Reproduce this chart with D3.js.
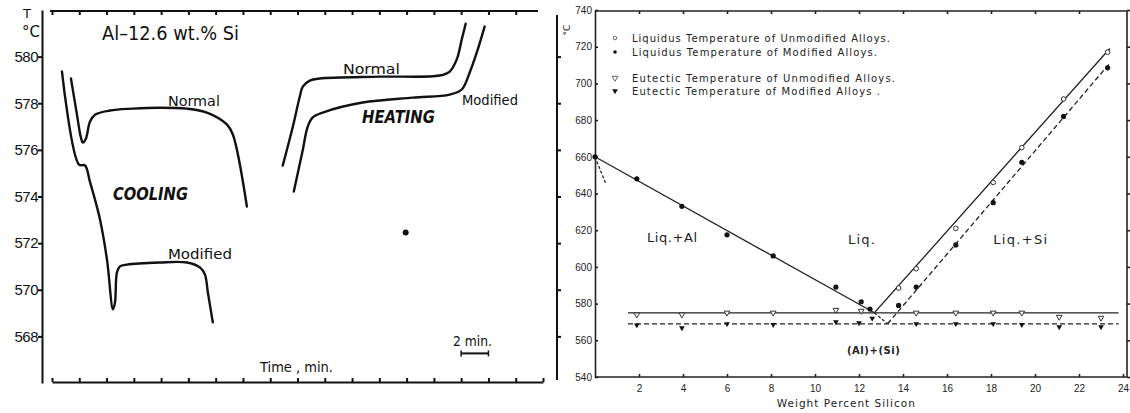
<!DOCTYPE html>
<html>
<head>
<meta charset="utf-8">
<script src="https://cdn.jsdelivr.net/npm/d3@7"></script>
<style>
body { margin: 0; background: #fff; }
svg { display: block; font-family: 'DejaVu Sans', sans-serif; }
</style>
</head>
<body>
<div id="root"></div>
<script>
// left panel: [time (min), temperature (C)]
var coolNormal = [[1.39,579.06],[1.83,577.51],[2.12,576.53],[2.27,576.31],[2.49,576.49],[2.78,577.21],[3.15,577.51],[4.25,577.69],[5.93,577.77],[7.91,577.81],[9.89,577.77],[11.36,577.6],[12.82,577.09],[13.26,576.66],[14.29,573.57]];
var coolModified = [[0.73,579.36],[1.98,575.37],[2.42,575.33],[2.78,574.64],[3.15,573.87],[3.52,573.01],[4.03,571.3],[4.47,569.16],[4.62,569.46],[4.76,570.74],[4.98,571.0],[5.49,571.08],[7.91,571.17],[9.89,571.17],[10.84,570.96],[11.21,570.66],[11.43,569.88],[11.79,568.6]];
var heatNormal = [[16.92,575.33],[17.66,577.0],[18.17,578.29],[18.39,578.71],[18.9,578.97],[19.63,579.06],[24.03,579.14],[28.42,579.19],[29.16,579.36],[29.67,579.87],[30.04,580.73],[30.33,581.41]];
var heatModified = [[17.73,574.21],[18.39,576.01],[18.75,577.0],[19.12,577.39],[19.85,577.6],[22.78,578.03],[26.45,578.24],[29.16,578.37],[30.04,578.59],[30.62,579.31],[31.14,580.17],[31.72,581.29]];
var specks = [[25.93,572.46]];
var leftTicks = [568, 570, 572, 574, 576, 578, 580];
var timeTicks = d3.range(0, 37, 2);

// right panel: [wt% Si, temperature (C)]
var liqLine = [[0,660],[12.7,575],[23.4,719]];
var liqModLine = [[13.3,569],[23.4,711]];
var liqModLeft = [[0,660],[0.5,645]];
var liqModJoin = [[12.7,575],[13.3,569]];
var eutUnmodLine = [[1.5,575],[23.8,575]];
var eutModLine = [[1.5,569],[23.8,569]];
var liqUnmodPts = [[13.8,588.5],[14.6,599],[16.4,621],[18.1,646],[19.4,665],[21.3,691.5],[23.3,717]];
var liqModPts = [[0,660],[1.9,648],[3.95,633],[6,617.5],[8.1,606],[10.95,589],[12.1,581],[12.5,577],[13.8,579],[14.6,589],[16.4,612],[18.1,635],[19.4,657],[21.3,682],[23.3,708.5]];
var eutUnmodPts = [[1.9,574],[3.95,574],[6,575],[8.1,575],[10.95,576.5],[12.1,576],[14.6,575],[16.4,575],[18.1,575],[19.4,575],[21.1,572.7],[23,572.2]];
var eutModPts = [[1.9,568.3],[3.95,566.7],[6,569],[8.1,568.5],[10.95,570],[12,569.5],[12.6,572],[14.6,569],[16.4,569],[18.1,569],[19.4,568.5],[21.1,567.3],[23,567.3]];
var rightYTicks = d3.range(540, 741, 20);
var rightXTicks = d3.range(2, 25, 2);
var legendLabels = [
  'Liquidus Temperature of Unmodified Alloys.',
  'Liquidus Temperature of Modified Alloys.',
  'Eutectic Temperature of Unmodified Alloys.',
  'Eutectic Temperature of Modified Alloys .'
];

var w = 1130, h = 413;
var svg = d3.select('#root').append('svg')
  .attr('width', w)
  .attr('height', h);

// ---------- left panel ----------
var x1 = d3.scaleLinear().domain([0, 36]).range([52, 543]);
var y1 = d3.scaleLinear().domain([566, 582]).range([383, 10]);
var left = svg.append('g').attr('id', 'left');

var thick = function(sel) {
  sel.selectAll('path,line').attr('stroke', '#111').attr('stroke-width', 2);
  sel.selectAll('text').attr('fill', '#111');
};

left.append('g')
  .attr('transform', 'translate(42,0)')
  .call(d3.axisLeft(y1).tickValues(leftTicks).tickSize(4).tickSizeOuter(0).tickPadding(0))
  .call(thick)
  .call(function(g) { g.selectAll('text').attr('font-size', 15).attr('letter-spacing', -0.5); });

left.append('g')
  .attr('transform', 'translate(0,382)')
  .call(d3.axisTop(x1).tickValues(timeTicks).tickSize(4).tickSizeOuter(0).tickFormat(''))
  .call(thick);

left.append('g')
  .attr('transform', 'translate(0,11)')
  .call(d3.axisBottom(x1).tickValues(timeTicks.slice(0, -1)).tickSize(4).tickSizeOuter(0).tickFormat(''))
  .call(thick)
  .call(function(g) { g.select('.domain').attr('d', 'M50,0H538'); });

left.append('g')
  .attr('transform', 'translate(557,0)')
  .call(d3.axisLeft(y1).tickValues(leftTicks).tickSize(-4).tickSizeOuter(0).tickFormat(''))
  .call(thick)
  .call(function(g) { g.select('.domain').attr('d', 'M0,15V380'); });

var curve = d3.line()
  .x(function(d) { return x1(d[0]); })
  .y(function(d) { return y1(d[1]); })
  .curve(d3.curveCatmullRom.alpha(0.5));

left.selectAll('path.curve')
  .data([coolNormal, coolModified, heatNormal, heatModified])
  .enter()
  .append('path')
  .attr('class', 'curve')
  .attr('d', curve)
  .attr('fill', 'none')
  .attr('stroke', '#111')
  .attr('stroke-width', 2.4)
  .attr('stroke-linecap', 'round')
  .attr('stroke-linejoin', 'round');

left.selectAll('circle')
  .data(specks)
  .enter()
  .append('circle')
  .attr('cx', function(d) { return x1(d[0]); })
  .attr('cy', function(d) { return y1(d[1]); })
  .attr('r', 3)
  .attr('fill', '#111');

var leftText = [
  {t: 'T', px: [27, 18], size: 13, anchor: 'middle'},
  {t: '°C', px: [31, 37], size: 15, anchor: 'middle'},
  {t: 'Al\u201312.6 wt.% Si', at: [3.67, 580.73], size: 19, len: 137},
  {t: 'Normal', at: [8.5, 577.9], size: 14, len: 52},
  {t: 'COOLING', at: [4.47, 573.83], size: 17, len: 75, bold: true},
  {t: 'Modified', at: [8.5, 571.3], size: 14, len: 64},
  {t: 'Normal', at: [21.33, 579.27], size: 14, len: 57},
  {t: 'Modified', at: [30.06, 577.94], size: 14, len: 56},
  {t: 'HEATING', at: [22.73, 577.17], size: 17, len: 73, bold: true},
  {t: 'Time , min.', at: [15.25, 566.46], size: 14, len: 73},
  {t: '2 min.', at: [29.4, 567.57], size: 14, len: 39}
];
left.selectAll('text.lab')
  .data(leftText)
  .enter()
  .append('text')
  .attr('class', 'lab')
  .attr('x', function(d) { return d.at ? x1(d.at[0]) : d.px[0]; })
  .attr('y', function(d) { return d.at ? y1(d.at[1]) : d.px[1]; })
  .attr('font-size', function(d) { return d.size; })
  .attr('text-anchor', function(d) { return d.anchor || 'start'; })
  .attr('font-weight', function(d) { return d.bold ? 'bold' : null; })
  .attr('font-style', function(d) { return d.bold ? 'italic' : null; })
  .attr('textLength', function(d) { return d.len || null; })
  .attr('lengthAdjust', 'spacingAndGlyphs')
  .attr('fill', '#111')
  .text(function(d) { return d.t; });

// 2 min scale bar
var barY = y1(567.27);
left.append('line')
  .attr('x1', x1(30)).attr('x2', x1(32))
  .attr('y1', barY).attr('y2', barY)
  .attr('stroke', '#111').attr('stroke-width', 2);
[30, 32].forEach(function(t) {
  left.append('line')
    .attr('x1', x1(t)).attr('x2', x1(t))
    .attr('y1', barY - 3).attr('y2', barY + 3)
    .attr('stroke', '#111').attr('stroke-width', 1.5);
});

// ---------- right panel ----------
var x2 = d3.scaleLinear().domain([0, 24]).range([595, 1123]);
var y2 = d3.scaleLinear().domain([540, 740]).range([377, 10]);
var right = svg.append('g').attr('id', 'right');

var thin = function(sel) {
  sel.selectAll('path,line').attr('stroke', '#222').attr('stroke-width', 1.6);
  sel.selectAll('text').attr('fill', '#222').attr('font-size', 10);
};

right.append('g')
  .attr('transform', 'translate(595,0)')
  .call(d3.axisLeft(y2).tickValues(rightYTicks).tickSize(-3).tickSizeOuter(0).tickPadding(3))
  .call(thin);

right.append('g')
  .attr('transform', 'translate(0,377)')
  .call(d3.axisBottom(x2).tickValues(rightXTicks).tickSize(-3).tickSizeOuter(0).tickPadding(8))
  .call(thin)
  .call(function(g) { g.select('.domain').attr('d', 'M595,0H1127'); });

right.append('g')
  .attr('transform', 'translate(0,11)')
  .call(d3.axisBottom(x2).tickValues(rightXTicks.slice(0, -1)).tickSize(3).tickSizeOuter(0).tickFormat(''))
  .call(thin)
  .call(function(g) { g.select('.domain').attr('d', 'M595,0H1127'); });

right.append('g')
  .attr('transform', 'translate(1127,0)')
  .call(d3.axisLeft(y2).tickValues(rightYTicks).tickSize(-3).tickSizeOuter(0).tickFormat(''))
  .call(thin)
  .call(function(g) { g.select('.domain').attr('d', 'M0,11V377'); });

var line2 = d3.line()
  .x(function(d) { return x2(d[0]); })
  .y(function(d) { return y2(d[1]); });

var lines = [
  {d: liqLine, dash: null},
  {d: eutUnmodLine, dash: null},
  {d: liqModLine, dash: '5,3'},
  {d: eutModLine, dash: '5,3'},
  {d: liqModLeft, dash: '3,2'},
  {d: liqModJoin, dash: '3,2'}
];
right.selectAll('path.ln')
  .data(lines)
  .enter()
  .append('path')
  .attr('class', 'ln')
  .attr('d', function(d) { return line2(d.d); })
  .attr('fill', 'none')
  .attr('stroke', '#222')
  .attr('stroke-width', 1.3)
  .attr('stroke-dasharray', function(d) { return d.dash; });

var tri = d3.symbol().type(d3.symbolTriangle).size(14);

right.selectAll('circle.lu')
  .data(liqUnmodPts)
  .enter()
  .append('circle')
  .attr('class', 'lu')
  .attr('cx', function(d) { return x2(d[0]); })
  .attr('cy', function(d) { return y2(d[1]); })
  .attr('r', 2.3)
  .attr('fill', '#fff')
  .attr('stroke', '#333')
  .attr('stroke-width', 1);

right.selectAll('circle.lm')
  .data(liqModPts)
  .enter()
  .append('circle')
  .attr('class', 'lm')
  .attr('cx', function(d) { return x2(d[0]); })
  .attr('cy', function(d) { return y2(d[1]); })
  .attr('r', 2.6)
  .attr('fill', '#111');

right.selectAll('path.eu')
  .data(eutUnmodPts)
  .enter()
  .append('path')
  .attr('class', 'eu')
  .attr('d', tri)
  .attr('transform', function(d) { return 'translate(' + x2(d[0]) + ',' + y2(d[1]) + ') rotate(180)'; })
  .attr('fill', '#fff')
  .attr('stroke', '#333')
  .attr('stroke-width', 1);

right.selectAll('path.em')
  .data(eutModPts)
  .enter()
  .append('path')
  .attr('class', 'em')
  .attr('d', tri)
  .attr('transform', function(d) { return 'translate(' + x2(d[0]) + ',' + y2(d[1]) + ') rotate(180)'; })
  .attr('fill', '#111');

// legend
var legRows = [38, 52, 78, 91];
var legLens = [258, 245, 263, 248];
var leg = right.append('g').attr('id', 'legend');
leg.selectAll('text')
  .data(legendLabels)
  .enter()
  .append('text')
  .attr('x', 632)
  .attr('y', function(d, i) { return legRows[i] + 3.5; })
  .attr('font-size', 10)
  .attr('textLength', function(d, i) { return legLens[i]; })
  .attr('lengthAdjust', 'spacing')
  .attr('fill', '#222')
  .text(function(d) { return d; });
leg.selectAll('.sym')
  .data(legendLabels)
  .enter()
  .append('path')
  .attr('class', 'sym')
  .attr('d', function(d, i) { return i < 2 ? d3.symbol().type(d3.symbolCircle).size(10)() : tri(); })
  .attr('transform', function(d, i) { return 'translate(615,' + legRows[i] + ')' + (i < 2 ? '' : ' rotate(180)'); })
  .attr('fill', function(d, i) { return i % 2 ? '#111' : '#fff'; })
  .attr('stroke', function(d, i) { return i % 2 ? 'none' : '#444'; })
  .attr('stroke-width', 0.8);

var rightText = [
  {t: 'Liq.+Al', at: [3.5, 613.5], size: 13, len: 50, anchor: 'middle'},
  {t: 'Liq.', at: [11.5, 612.5], size: 13, len: 27},
  {t: 'Liq.+Si', at: [18.1, 612.5], size: 13, len: 54},
  {t: '(Al)+(Si)', at: [11.45, 552.5], size: 10, len: 53, bold: true},
  {t: 'Weight  Percent  Silicon', at: [11.4, 523.6], size: 10.5, len: 138, anchor: 'middle'}
];
right.selectAll('text.lab')
  .data(rightText)
  .enter()
  .append('text')
  .attr('class', 'lab')
  .attr('x', function(d) { return x2(d.at[0]); })
  .attr('y', function(d) { return y2(d.at[1]); })
  .attr('font-size', function(d) { return d.size; })
  .attr('text-anchor', function(d) { return d.anchor || 'start'; })
  .attr('font-weight', function(d) { return d.bold ? 'bold' : null; })
  .attr('textLength', function(d) { return d.len; })
  .attr('lengthAdjust', 'spacing')
  .attr('fill', '#222')
  .text(function(d) { return d.t; });

right.append('text')
  .attr('transform', 'translate(570,30) rotate(-90)')
  .attr('text-anchor', 'middle')
  .attr('font-size', 9)
  .attr('fill', '#222')
  .text('°C');
</script>
</body>
</html>
